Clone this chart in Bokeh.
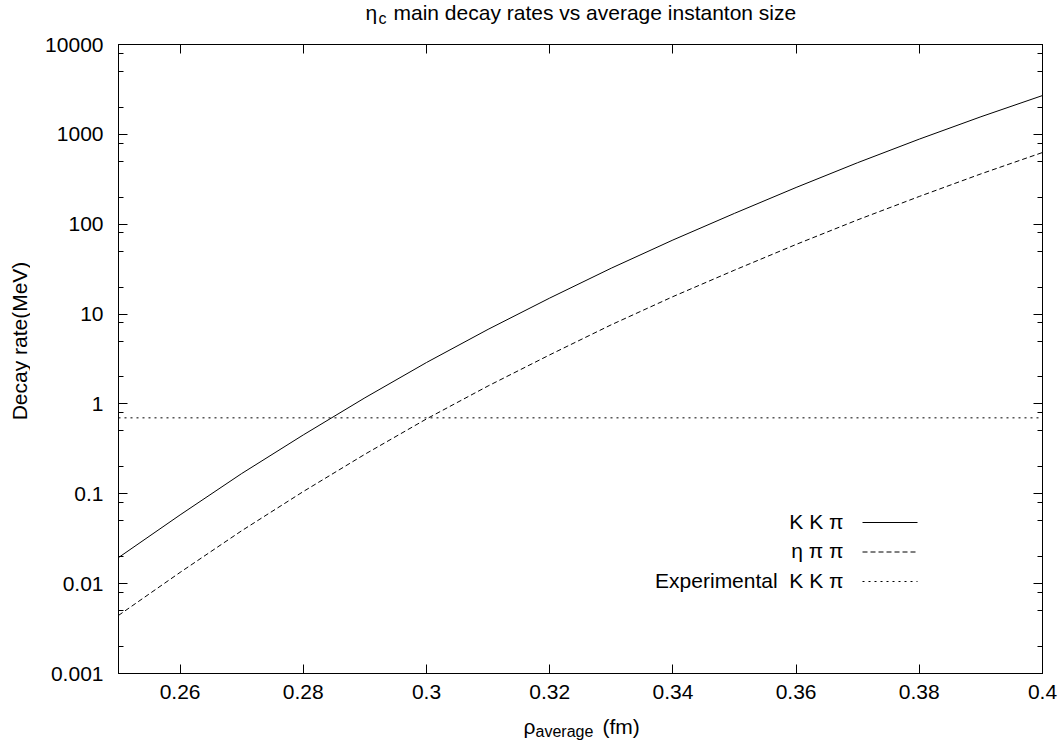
import math
from bokeh.plotting import figure
from bokeh.layouts import column, row
from bokeh.models import (FixedTicker, CustomJSTickFormatter, LinearAxis, LogAxis,
                          Label, Span, Arrow)
from bokeh.embed import file_html
from bokeh.resources import INLINE

# ---------------- data ----------------
rho = [0.25, 0.26, 0.27, 0.28, 0.29, 0.30, 0.31, 0.32,
       0.33, 0.34, 0.35, 0.36, 0.37, 0.38, 0.39, 0.40]
rate_kkpi = [0.0195, 0.0582, 0.168, 0.452, 1.170, 2.891, 6.761, 15.07,
             32.43, 66.68, 132.1, 256.4, 484.2, 885.1, 1570, 2704]
rate_etapipi = [0.00443, 0.01334, 0.0388, 0.1059, 0.2754, 0.681, 1.585, 3.516,
                7.603, 15.63, 30.83, 59.57, 111.9, 203.7, 363.1, 628.1]
experimental_kkpi = 0.7

x_ticks = [0.26, 0.28, 0.3, 0.32, 0.34, 0.36, 0.38, 0.4]
y_ticks = [0.001, 0.01, 0.1, 1, 10, 100, 1000, 10000]
y_minor = [m * d for d in [0.001, 0.01, 0.1, 1, 10, 100, 1000] for m in (2, 5, 8)]

legend_labels = ["K K \u03c0", "\u03b7 \u03c0 \u03c0", "Experimental\u00a0 K K \u03c0"]
title_main = "main decay rates vs average instanton size"
y_label = "Decay rate(MeV)"

FONT = "Liberation Sans"
FS = "21px"
FS_SUB = "16px"
MID = 0.346 * 21      # baseline -> middle of text box (px)
MID_SUB = 0.346 * 16

W, H = 1062, 747
TITLE_H, XLAB_H, YLAB_W = 30, 38, 30
MAIN_W, MAIN_H = W - YLAB_W, H - TITLE_H - XLAB_H   # 1032 x 679


def text_fig(w, h):
    f = figure(width=w, height=h, output_backend="svg", toolbar_location=None,
               title=None, x_axis_location=None, y_axis_location=None,
               x_range=(0, 1), y_range=(0, 1),
               min_border_left=0, min_border_right=0,
               min_border_top=0, min_border_bottom=0)
    f.xgrid.visible = False
    f.ygrid.visible = False
    f.outline_line_color = None
    f.background_fill_color = "white"
    f.border_fill_color = "white"
    return f


def lab(fig, text, x, y, size=FS, align="left", angle=0.0):
    fig.add_layout(Label(text=text, x=x, y=y, x_units="screen", y_units="screen",
                         text_font=FONT, text_font_size=size, text_color="black",
                         text_align=align, text_baseline="middle", angle=angle))


# ---------------- main plot ----------------
p = figure(width=MAIN_W, height=MAIN_H, y_axis_type="log",
           x_range=(0.25, 0.40), y_range=(0.001, 10000),
           output_backend="svg", toolbar_location=None, title=None,
           min_border_left=88, min_border_right=20,
           min_border_top=14, min_border_bottom=36)
p.grid.visible = False
p.outline_line_color = "black"
p.outline_line_width = 1
p.background_fill_color = "white"
p.border_fill_color = "white"

xfmt = CustomJSTickFormatter(code="return String(tick);")
yfmt = CustomJSTickFormatter(code="return tick >= 1 ? tick.toFixed(0) : String(tick);")


def style(ax, ticker, fmt, labels=True):
    ax.ticker = ticker
    ax.formatter = fmt
    ax.axis_line_color = "black"
    ax.major_tick_line_color = "black"
    ax.minor_tick_line_color = "black"
    ax.major_tick_in = 9
    ax.major_tick_out = 0
    ax.minor_tick_in = 5
    ax.minor_tick_out = 0
    ax.major_label_text_font = FONT
    ax.major_label_text_font_size = FS
    ax.major_label_text_color = "black"
    if not labels:
        ax.major_label_text_color = None
        ax.major_label_text_font_size = "1px"
        ax.major_label_standoff = 0


xa = p.xaxis[0]
style(xa, FixedTicker(ticks=x_ticks, minor_ticks=[]), xfmt)
xa.major_label_standoff = 11
ya = p.yaxis[0]
style(ya, FixedTicker(ticks=y_ticks, minor_ticks=y_minor), yfmt)
ya.major_label_standoff = 15

top = LinearAxis()
style(top, FixedTicker(ticks=x_ticks, minor_ticks=[]),
      CustomJSTickFormatter(code="return '';"), labels=False)
p.add_layout(top, "above")
right = LogAxis()
style(right, FixedTicker(ticks=y_ticks, minor_ticks=y_minor),
      CustomJSTickFormatter(code="return '';"), labels=False)
p.add_layout(right, "right")

p.line(rho, rate_kkpi, line_color="black", line_width=1)
p.line(rho, rate_etapipi, line_color="black", line_width=1, line_dash="5 3")
p.add_layout(Span(location=experimental_kkpi, dimension="width",
                  line_color="black", line_width=1, line_dash="2 4"))

# legend: text on the left, line sample on the right (frame-relative px)
dashes = [None, "5 3", "2 4"]
for i, (txt, dash) in enumerate(zip(legend_labels, dashes)):
    base = 145 - 29.5 * i          # baseline height above the frame bottom
    lab(p, txt, 725, base + MID, align="right")
    kw = dict(line_color="black", line_width=1)
    if dash:
        kw["line_dash"] = dash
    p.add_layout(Arrow(x_start=744, x_end=799, y_start=base + 6, y_end=base + 6,
                       start_units="screen", end_units="screen",
                       start=None, end=None, **kw))

# ---------------- title strip (0..30) ----------------
tf = text_fig(W, TITLE_H)
lab(tf, "\u03b7", 365, TITLE_H - 19 + MID)
lab(tf, "c", 378, TITLE_H - 24 + MID_SUB, size=FS_SUB)
lab(tf, title_main, 393, TITLE_H - 19 + MID)

# ---------------- y label strip ----------------
yf = text_fig(YLAB_W, MAIN_H)
lab(yf, y_label, 19, 332.5, align="center", angle=math.pi / 2)

# ---------------- x label strip (709..747) ----------------
xf = text_fig(W, XLAB_H)
x_top = TITLE_H + MAIN_H
lab(xf, "\u03c1", 523, (x_top + XLAB_H) - 733 + MID)
lab(xf, "average", 535, (x_top + XLAB_H) - 737 + MID_SUB, size=FS_SUB)
lab(xf, "(fm)", 602, (x_top + XLAB_H) - 733 + MID)

layout = column(tf, row(yf, p), xf)
open("out.html", "w").write(file_html(layout, INLINE))
